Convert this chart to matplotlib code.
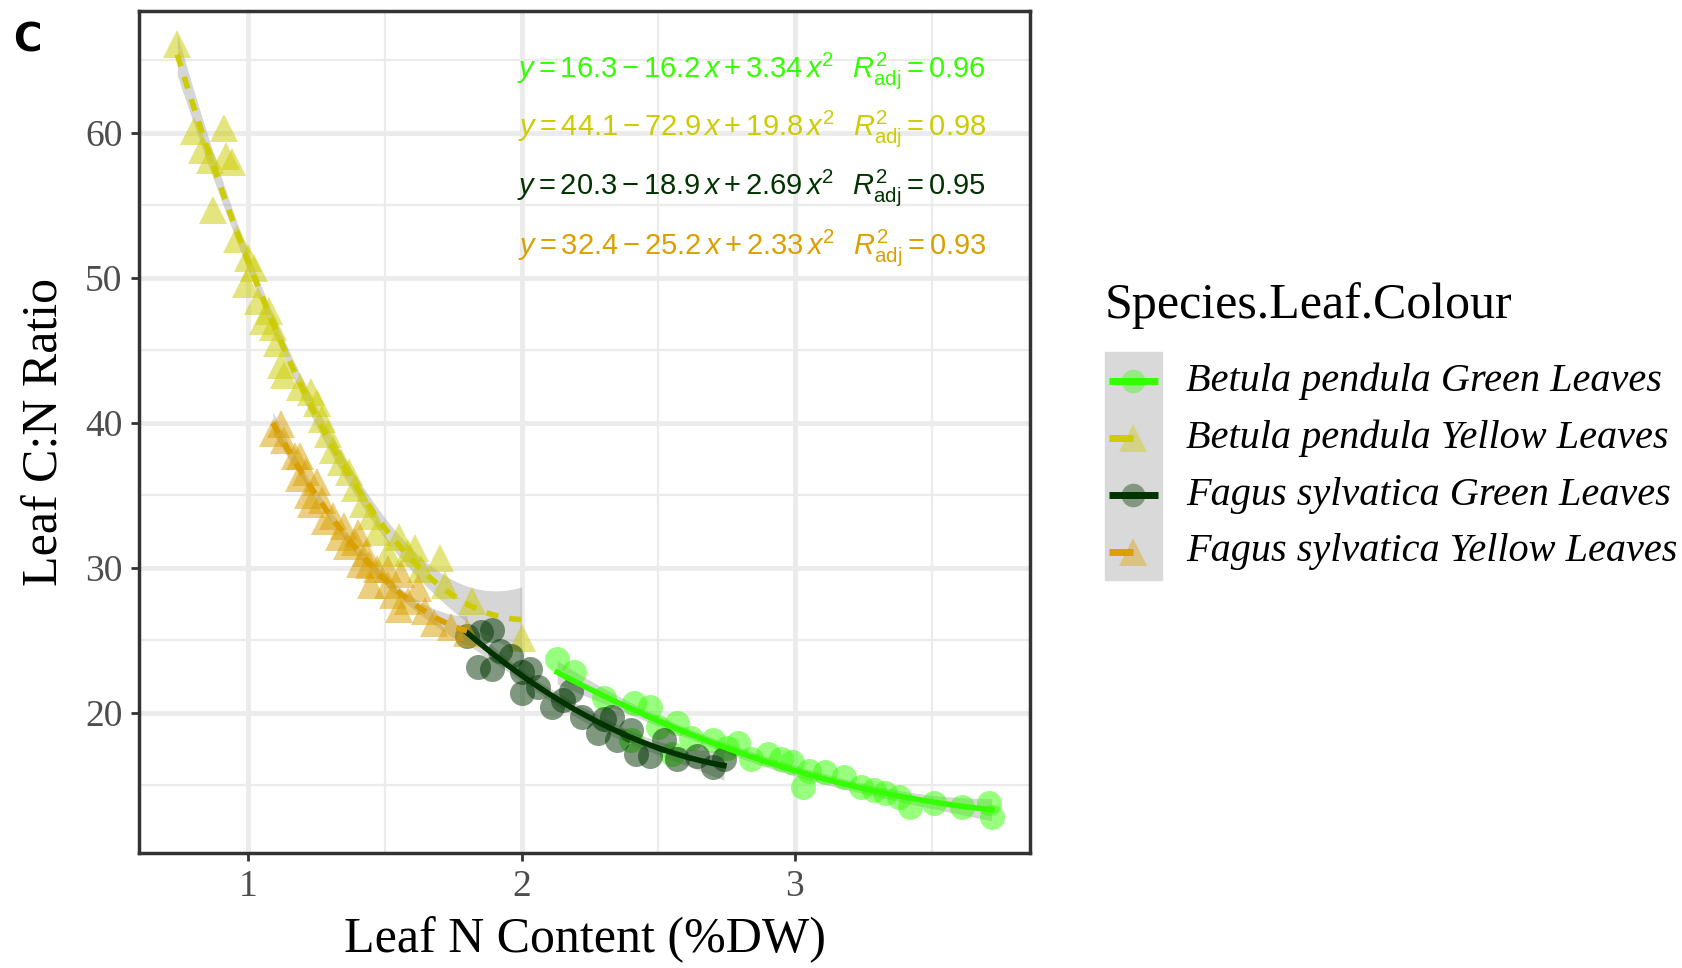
import matplotlib.pyplot as plt
import numpy as np
from matplotlib.patches import Rectangle
from matplotlib.lines import Line2D

# Leaf N content (%DW) and C:N ratio per species / leaf colour
bp_green_n = [2.13, 2.19, 2.41, 2.47, 2.57, 2.40, 2.55, 2.70, 2.79, 2.90, 2.99, 3.03,
              3.11, 3.18, 3.29, 3.38, 3.42, 3.51, 3.61, 3.71, 3.72, 2.95, 2.84, 3.24,
              3.33, 2.62, 2.30, 2.50, 2.75, 3.05]
bp_green_cn = [23.7, 22.8, 20.7, 20.4, 19.3, 18.1, 17.2, 18.1, 17.9, 17.2, 16.6, 14.9,
               15.9, 15.6, 14.7, 14.2, 13.5, 13.8, 13.5, 13.8, 12.8, 16.8, 16.8, 14.9,
               14.5, 18.3, 21.0, 19.0, 17.6, 16.0]

bp_yellow_n = [0.74, 0.80, 0.91, 0.83, 0.92, 0.86, 0.94, 0.87, 0.96, 1.00, 0.99, 1.02,
               1.035, 1.075, 1.055, 1.09, 1.105, 1.12, 1.13, 1.19, 1.23, 1.25, 1.27, 1.29,
               1.31, 1.34, 1.37, 1.39, 1.42, 1.45, 1.47, 1.55, 1.585, 1.70, 1.51, 1.63,
               1.82, 1.72, 2.00, 1.61]
bp_yellow_cn = [66.1, 60.1, 60.3, 58.8, 58.4, 58.1, 58.0, 54.7, 52.7, 51.4, 49.6, 50.7,
                48.4, 47.7, 47.0, 46.6, 45.5, 44.0, 43.3, 42.5, 42.1, 41.4, 40.3, 39.2,
                38.1, 37.3, 36.6, 35.5, 34.4, 33.6, 32.5, 32.1, 31.0, 30.7, 31.0, 29.9,
                27.7, 28.8, 25.2, 31.4]

fs_green_n = [1.85, 1.84, 1.89, 1.92, 2.00, 1.96, 2.03, 2.11, 2.06, 2.15, 2.22, 2.28,
              2.33, 2.35, 2.42, 2.40, 2.47, 2.52, 2.57, 2.64, 2.70, 2.74, 2.00, 1.89,
              1.80, 2.18, 2.30]
fs_green_cn = [25.6, 23.2, 23.0, 24.3, 21.4, 23.9, 23.0, 20.4, 21.8, 20.9, 19.7, 18.6,
               19.7, 18.1, 17.2, 18.8, 17.0, 18.1, 16.8, 17.0, 16.3, 16.8, 22.8, 25.7,
               25.3, 21.5, 19.6]

fs_yellow_n = [1.12, 1.13, 1.17, 1.21, 1.185, 1.25, 1.27, 1.23, 1.31, 1.35, 1.33, 1.39,
               1.43, 1.41, 1.47, 1.51, 1.53, 1.585, 1.645, 1.68, 1.74, 1.51, 1.45, 1.09,
               1.19, 1.80, 1.28, 1.36, 1.44, 1.56, 1.62, 1.22, 1.40, 1.55]
fs_yellow_cn = [39.9, 38.8, 37.7, 36.6, 36.2, 35.9, 34.7, 34.4, 33.6, 32.9, 32.1, 31.8,
                31.0, 30.3, 29.9, 28.8, 28.1, 27.7, 27.0, 26.2, 25.9, 29.9, 28.8, 39.3,
                37.7, 25.5, 33.2, 31.5, 30.2, 29.6, 28.6, 35.0, 32.4, 27.2]

group_labels = ["Betula pendula Green Leaves", "Betula pendula Yellow Leaves",
                "Fagus sylvatica Green Leaves", "Fagus sylvatica Yellow Leaves"]
group_colors = ["#33FF00", "#CCCC00", "#003300", "#D9A000"]
group_markers = ["o", "^", "o", "^"]
group_styles = ["solid", "dashed", "solid", "dashed"]

eq_a = ["16.3", "44.1", "20.3", "32.4"]
eq_b = ["16.2", "72.9", "18.9", "25.2"]
eq_c = ["3.34", "19.8", "2.69", "2.33"]
eq_r2 = ["0.96", "0.98", "0.95", "0.93"]

groups = [(bp_green_n, bp_green_cn), (bp_yellow_n, bp_yellow_cn),
          (fs_green_n, fs_green_cn), (fs_yellow_n, fs_yellow_cn)]

plt.rcParams['mathtext.fontset'] = 'custom'
plt.rcParams['mathtext.rm'] = 'Liberation Sans'
plt.rcParams['mathtext.it'] = 'Liberation Sans:italic'

fig = plt.figure(figsize=(16.83, 9.68), dpi=100)
ax = fig.add_axes([0.0826, 0.1188, 0.5294, 0.8698])

# quadratic fits with confidence ribbons
fits = []
for (xs, ys), col, ls in zip(groups, group_colors, group_styles):
    x = np.array(xs)
    y = np.array(ys)
    coef, cov = np.polyfit(x, y, 2, cov=True)
    xg = np.linspace(x.min(), x.max(), 80)
    X = np.vstack([xg**2, xg, np.ones_like(xg)]).T
    fit = X @ coef
    se = np.sqrt(np.einsum('ij,jk,ik->i', X, cov, X))
    ax.fill_between(xg, fit - 2 * se, fit + 2 * se, color="#999999", alpha=0.4, lw=0, zorder=2)
    fits.append((xg, fit, col, ls))

for (xs, ys), col, mk in zip(groups, group_colors, group_markers):
    ms = 20 if mk == "^" else 18
    ax.plot(xs, ys, linestyle="none", marker=mk, ms=ms, color=col, alpha=0.5,
            markeredgewidth=0, zorder=3)

for xg, fit, col, ls in fits:
    if ls == "dashed":
        ax.plot(xg, fit, color=col, lw=4, dashes=(2.2, 2), zorder=4)
    else:
        ax.plot(xg, fit, color=col, lw=4, zorder=4)

# fitted equations
eq_y = [64.3, 60.3, 56.2, 52.1]
for a, b, c, r2, col, yy in zip(eq_a, eq_b, eq_c, eq_r2, group_colors, eq_y):
    s = (r"$y = %s - %s\,x + %s\,x^2$  $R^2_{\mathrm{adj}} = %s$" % (a, b, c, r2))
    ax.text(3.70, yy, s, color=col, fontsize=21, ha="right", va="center", zorder=5)

ax.set_xticks([1, 2, 3])
ax.set_yticks([20, 30, 40, 50, 60])
ax.set_xticks([0.5, 1.5, 2.5, 3.5], minor=True)
ax.set_yticks([15, 25, 35, 45, 55, 65], minor=True)
ax.set_xlim(0.60, 3.86)
ax.set_ylim(10.34, 68.4)
ax.grid(which="major", color="#EBEBEB", lw=3.5, zorder=0)
ax.grid(which="minor", color="#EBEBEB", lw=1.6, zorder=0)
ax.set_axisbelow(True)
ax.tick_params(which="minor", length=0)
ax.tick_params(which="major", length=6, width=2, color="#333333", labelcolor="#4D4D4D",
               labelsize=27, pad=6)
for lab in ax.get_xticklabels() + ax.get_yticklabels():
    lab.set_family("Liberation Serif")
for sp in ax.spines.values():
    sp.set_color("#333333")
    sp.set_linewidth(2.5)

ax.set_xlabel("Leaf N Content (%DW)", family="Liberation Serif", fontsize=36, labelpad=9)
ax.set_ylabel("Leaf C:N Ratio", family="Liberation Serif", fontsize=36, labelpad=12)

fig.text(0.008, 0.958, "C", fontsize=28, fontweight="bold", family="DejaVu Sans", va="center")

# legend
fig.text(1105 / 1683, 1 - 306 / 968, "Species.Leaf.Colour", family="Liberation Serif",
         fontsize=36, va="center", ha="left")
fig.patches.append(Rectangle((1105 / 1683, 1 - 580 / 968), 57 / 1683, 228 / 968,
                             transform=fig.transFigure, color="#D9D9D9", zorder=0))
row_y = [381, 438, 495, 552]
for lab, col, mk, ls, ry in zip(group_labels, group_colors, group_markers, group_styles, row_y):
    yy = 1 - ry / 968
    xc = 1133 / 1683
    ms = 20 if mk == "^" else 17
    fig.add_artist(Line2D([xc], [yy], transform=fig.transFigure, marker=mk, ms=ms,
                          color=col, alpha=0.4, markeredgewidth=0, linestyle="none"))
    x0 = 1109 / 1683
    x1 = (1158 if ls == "solid" else 1133) / 1683
    fig.add_artist(Line2D([x0, x1], [yy, yy], transform=fig.transFigure, color=col,
                          lw=5, solid_capstyle="butt"))
    fig.text(1186 / 1683, yy, lab, family="Liberation Serif", style="italic",
             fontsize=29, va="center", ha="left")

fig.savefig("out.png", dpi=100)
